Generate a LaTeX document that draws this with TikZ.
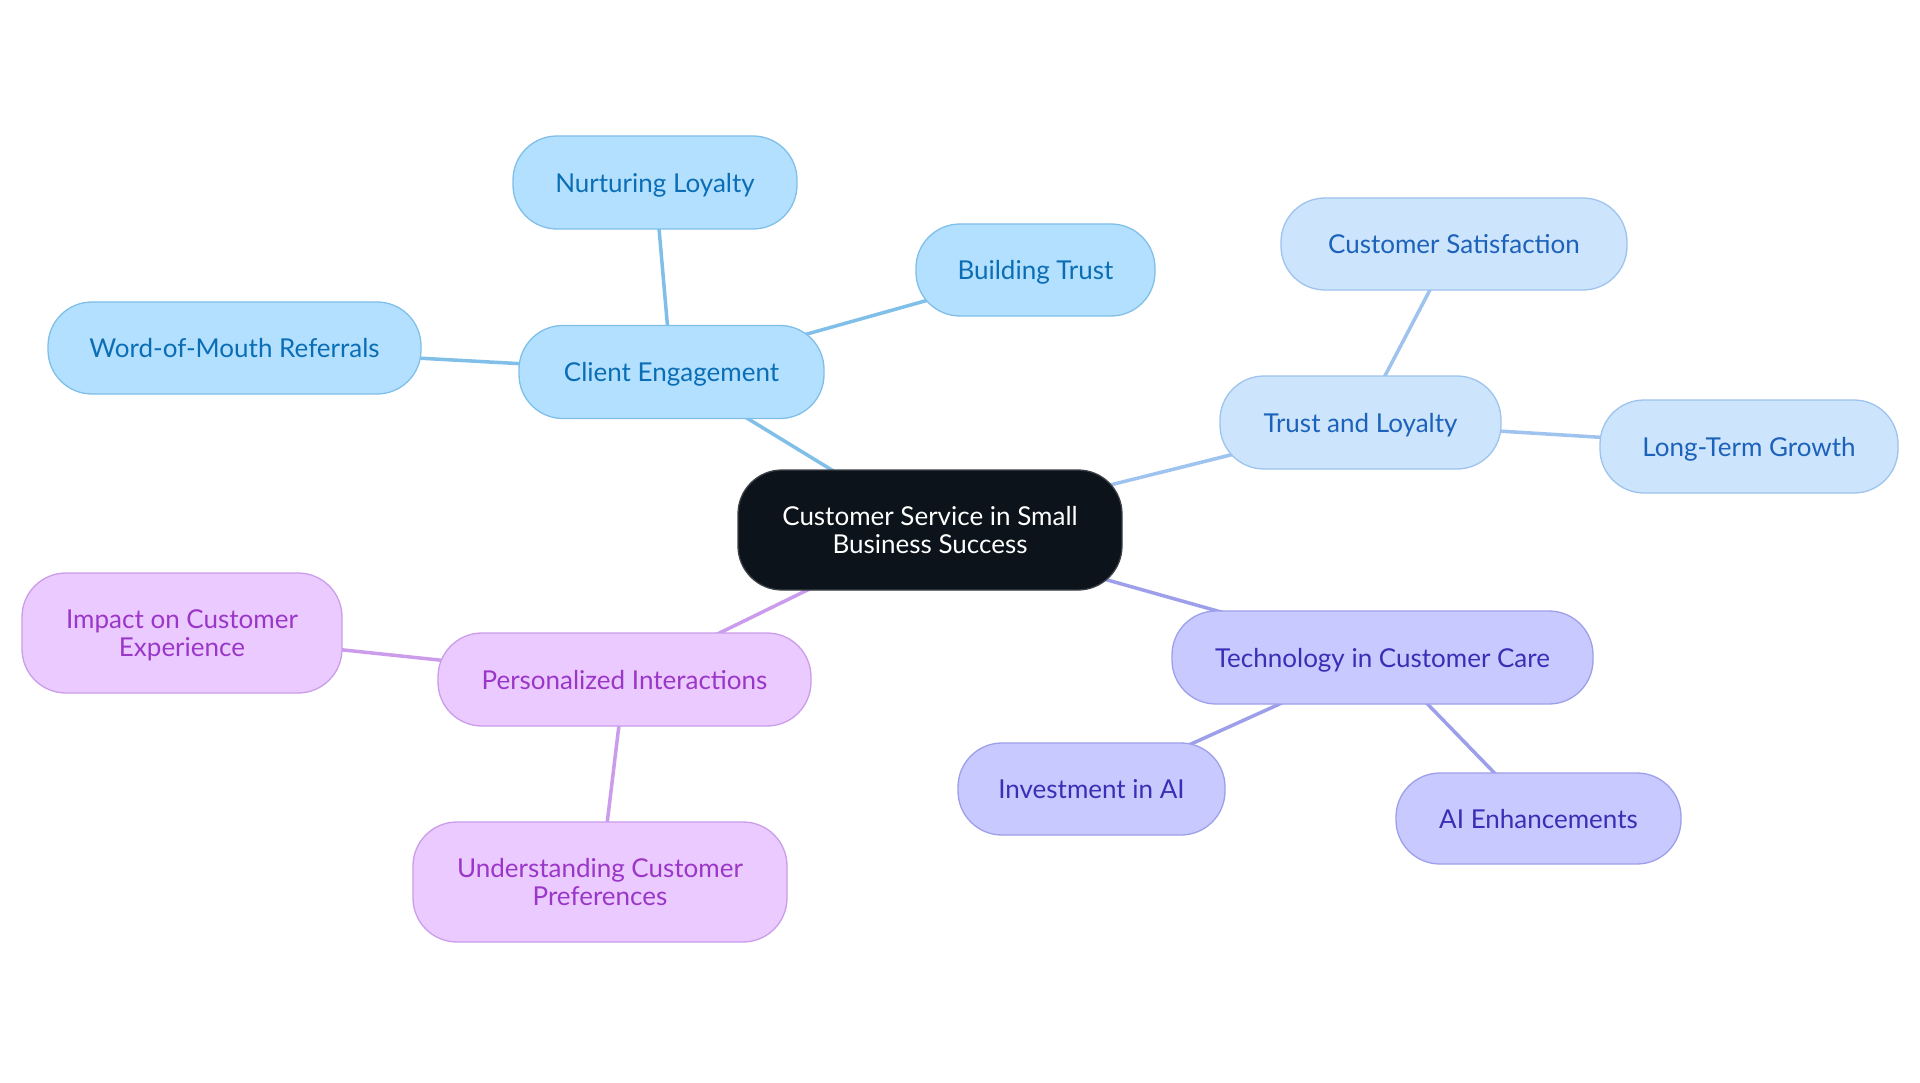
\documentclass[tikz,border=0pt]{standalone}
\usepackage{fontspec}
\setmainfont{Lato}
\usetikzlibrary{backgrounds}
\definecolor{bfill}{HTML}{B3E0FF}
\definecolor{bdraw}{HTML}{7FBFE8}
\definecolor{btext}{HTML}{0B6EB5}
\definecolor{lfill}{HTML}{CCE4FC}
\definecolor{ldraw}{HTML}{9DC3EE}
\definecolor{ltext}{HTML}{1C62BA}
\definecolor{pfill}{HTML}{C8CAFF}
\definecolor{pdraw}{HTML}{9D9FEA}
\definecolor{ptext}{HTML}{3A2EB5}
\definecolor{vfill}{HTML}{EBCBFF}
\definecolor{vdraw}{HTML}{CA9CEB}
\definecolor{vtext}{HTML}{9A36C8}
\definecolor{cfill}{HTML}{0C131A}
\tikzset{
  box/.style={rectangle, rounded corners=44pt, inner sep=0pt, align=center,
    font=\fontsize{26}{28}\selectfont, line width=1.3pt, text depth=0pt},
  bbox/.style={box, fill=bfill, draw=bdraw, text=btext},
  lbox/.style={box, fill=lfill, draw=ldraw, text=ltext},
  pbox/.style={box, fill=pfill, draw=pdraw, text=ptext},
  vbox/.style={box, fill=vfill, draw=vdraw, text=vtext},
  cbox/.style={box, fill=cfill, draw=cfill!80!white, text=white},
  bline/.style={draw=bdraw, line width=3.5pt},
  lline/.style={draw=ldraw, line width=3.5pt},
  pline/.style={draw=pdraw, line width=3.5pt},
  vline/.style={draw=vdraw, line width=3.5pt},
}
\begin{document}
\begin{tikzpicture}[x=1pt,y=-1pt]
\useasboundingbox (0,0) rectangle (1920,1083);
% nodes
\node[cbox, minimum width=384pt, minimum height=120pt] (c) at (930,530) {Customer Service in Small\\Business Success};
\node[bbox, minimum width=305pt, minimum height=93pt] (ce) at (671.5,372) {Client Engagement};
\node[bbox, minimum width=284pt, minimum height=93pt] (nl) at (655,182.5) {Nurturing Loyalty};
\node[bbox, minimum width=239pt, minimum height=92pt] (bt) at (1035.5,270) {Building Trust};
\node[bbox, minimum width=373pt, minimum height=92pt] (wm) at (234.5,348) {Word-of-Mouth Referrals};
\node[lbox, minimum width=281pt, minimum height=93pt] (tl) at (1360.5,422.5) {Trust and Loyalty};
\node[lbox, minimum width=346pt, minimum height=92pt] (cs) at (1454,244) {Customer Satisfaction};
\node[lbox, minimum width=298pt, minimum height=93pt] (lg) at (1749,446.5) {Long-Term Growth};
\node[pbox, minimum width=421pt, minimum height=93pt] (tc) at (1382.5,657.5) {Technology in Customer Care};
\node[pbox, minimum width=267pt, minimum height=92pt] (ia) at (1091.5,789) {Investment in AI};
\node[pbox, minimum width=285pt, minimum height=91pt] (ae) at (1538.5,818.5) {AI Enhancements};
\node[vbox, minimum width=373pt, minimum height=93pt] (pi) at (624.5,679.5) {Personalized Interactions};
\node[vbox, minimum width=320pt, minimum height=120pt] (ic) at (182,633) {Impact on Customer\\Experience};
\node[vbox, minimum width=374pt, minimum height=120pt] (uc) at (600,882) {Understanding Customer\\Preferences};
% background and connectors (centre to centre, hidden under the filled nodes)
\begin{scope}[on background layer]
\fill[white] (0,0) rectangle (1920,1083);
\draw[bline] (c.center) -- (ce.center);
\draw[bline] (ce.center) -- (nl.center);
\draw[bline] (ce.center) -- (bt.center);
\draw[bline] (ce.center) -- (wm.center);
\draw[lline] (c.center) -- (tl.center);
\draw[lline] (tl.center) -- (cs.center);
\draw[lline] (tl.center) -- (lg.center);
\draw[pline] (c.center) -- (tc.center);
\draw[pline] (tc.center) -- (ia.center);
\draw[pline] (tc.center) -- (ae.center);
\draw[vline] (c.center) -- (pi.center);
\draw[vline] (pi.center) -- (ic.center);
\draw[vline] (pi.center) -- (uc.center);
\end{scope}
\end{tikzpicture}
\end{document}
